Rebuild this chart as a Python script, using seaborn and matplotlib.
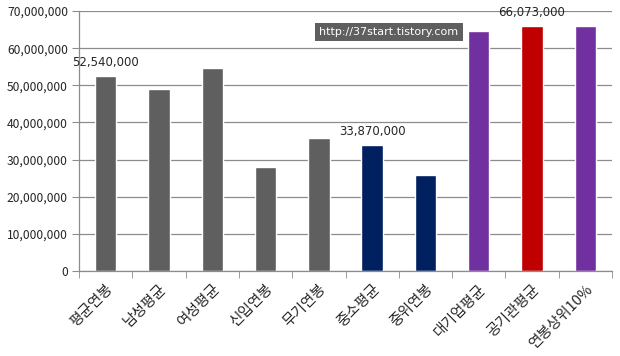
import matplotlib.pyplot as plt
import matplotlib as mpl
import matplotlib.ticker as mticker
import pandas as pd
import numpy as np
import seaborn as sns

sns.set_style('white')
mpl.rcParams['font.family'] = ['Noto Sans CJK KR', 'DejaVu Sans']

categories = ['평균연봉', '남성평균', '여성평균', '신입연봉', '무기연봉',
              '중소평균', '중위연봉', '대기업평균', '공기관평균', '연봉상위10%']
salaries = [52540000, 49000000, 54700000, 28000000, 35800000,
            33870000, 25800000, 64600000, 66073000, 65900000]
groups = ['g', 'g', 'g', 'g', 'g', 'n', 'n', 'p', 'r', 'p']
PALETTE = {'g': '#5f5f5f', 'n': '#002060', 'p': '#7030a0', 'r': '#c00000'}
labelled = {0: '52,540,000', 5: '33,870,000', 8: '66,073,000'}

df = pd.DataFrame({'cat': categories, 'salary': salaries, 'grp': groups})

fig = plt.figure(figsize=(6.2, 3.56), dpi=100)
ax = fig.add_axes([79 / 620, 1 - 271 / 356, 533 / 620, 260 / 356])

sns.barplot(data=df, x='cat', y='salary', hue='grp', palette=PALETTE,
            dodge=False, width=0.4, legend=False, ax=ax, saturation=1)

ax.set_ylim(0, 70000000)
ax.set_xlim(-0.5, len(categories) - 0.5)
ax.yaxis.set_major_locator(mticker.MultipleLocator(10000000))
ax.yaxis.set_major_formatter(mticker.FuncFormatter(lambda v, p: f'{int(v):,}'))
ax.grid(axis='y', color='#8c8c8c', linewidth=0.9)
ax.set_axisbelow(True)
for s in ['top', 'right']:
    ax.spines[s].set_visible(False)
for s in ['left', 'bottom']:
    ax.spines[s].set_color('#8c8c8c')
    ax.spines[s].set_linewidth(0.9)

ax.set_xlabel('')
ax.set_ylabel('')
ax.tick_params(axis='y', length=5, color='#8c8c8c', labelsize=8.7, pad=3, left=True)
ax.set_xticks(np.arange(len(categories)))
ax.set_xticklabels(categories, rotation=45, ha='right', rotation_mode='anchor')
ax.tick_params(axis='x', which='major', length=0, labelsize=10.5, pad=8)
ax.set_xticks(np.arange(len(categories) + 1) - 0.5, minor=True)
ax.tick_params(axis='x', which='minor', length=5, color='#8c8c8c', bottom=True)

for i, txt in labelled.items():
    ax.annotate(txt, (i, salaries[i]), xytext=(0, 5), textcoords='offset points',
                ha='center', va='bottom', fontsize=8.5, family='DejaVu Sans')

fig.text(389 / 620, 1 - 32 / 356, 'http://37start.tistory.com', color='white',
         fontsize=8, ha='center', va='center', family='DejaVu Sans',
         bbox=dict(facecolor='#5f5f5f', edgecolor='none', pad=3))

fig.savefig('out.png', dpi=100)
plt.close()
